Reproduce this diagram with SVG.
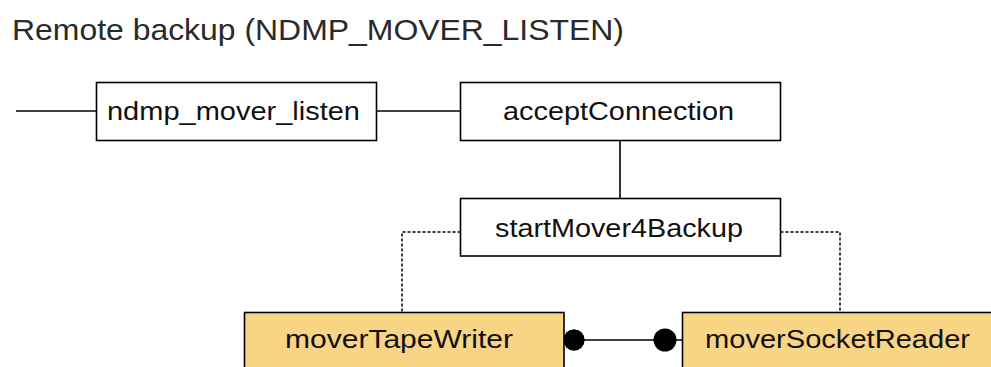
<svg xmlns="http://www.w3.org/2000/svg" width="991" height="367" viewBox="0 0 991 367">
<style>
  .box { fill: #ffffff; stroke: #000000; stroke-width: 1.6; }
  .task { fill: #F8D485; stroke: #000000; stroke-width: 1.6; }
  .lbl { font-family: "Liberation Sans", Arial, sans-serif; font-size: 25px; fill: #111111; }
  .title { font-family: "Liberation Sans", Arial, sans-serif; font-size: 30px; fill: #2a2a2a; }
  .solid { stroke: #000000; stroke-width: 1.6; fill: none; }
  .dot { stroke: #000000; stroke-width: 1.5; fill: none; stroke-dasharray: 3 2; }
</style>
<rect width="991" height="367" fill="#ffffff"/>
<text class="title" x="12" y="40" textLength="612" lengthAdjust="spacingAndGlyphs">Remote backup (NDMP_MOVER_LISTEN)</text>
<g id="connectors">
  <line class="solid" x1="16" y1="111" x2="96.5" y2="111"/>
  <line class="solid" x1="376.5" y1="111" x2="460.5" y2="111"/>
  <line class="solid" x1="620" y1="140.5" x2="620" y2="198.5"/>
  <polyline class="dot" points="460.5,232 402,232 402,312"/>
  <polyline class="dot" points="780.5,232 840,232 840,312"/>
  <line class="solid" x1="564" y1="340" x2="682" y2="340"/>
  <circle cx="574" cy="340" r="10.5" fill="#000000"/>
  <circle cx="665" cy="340" r="11.5" fill="#000000"/>
</g>
<g id="ndmp_mover_listen">
  <rect class="box" x="96.5" y="82.5" width="280" height="58"/>
  <text class="lbl" x="107" y="120" textLength="253" lengthAdjust="spacingAndGlyphs">ndmp_mover_listen</text>
</g>
<g id="acceptConnection">
  <rect class="box" x="460.5" y="82.5" width="320" height="58"/>
  <text class="lbl" x="503" y="120" textLength="231" lengthAdjust="spacingAndGlyphs">acceptConnection</text>
</g>
<g id="startMover4Backup">
  <rect class="box" x="460.5" y="198.5" width="320" height="57.5"/>
  <text class="lbl" x="495" y="237" textLength="248" lengthAdjust="spacingAndGlyphs">startMover4Backup</text>
</g>
<g id="moverTapeWriter">
  <rect class="task" x="244.5" y="312.5" width="319.5" height="70"/>
  <circle cx="574" cy="340" r="10.5" fill="#000000"/>
  <text class="lbl" x="285" y="348" textLength="228" lengthAdjust="spacingAndGlyphs">moverTapeWriter</text>
</g>
<g id="moverSocketReader">
  <rect class="task" x="682.5" y="312.5" width="330" height="70"/>
  <text class="lbl" x="705" y="348" textLength="265" lengthAdjust="spacingAndGlyphs">moverSocketReader</text>
</g>
</svg>
